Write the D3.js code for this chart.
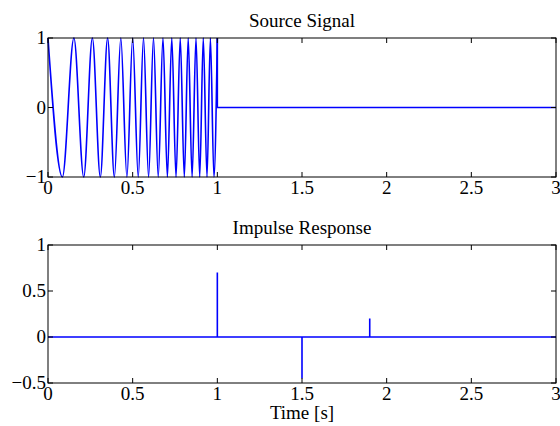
<!DOCTYPE html>
<html>
<head>
<meta charset="utf-8">
<script src="https://cdn.jsdelivr.net/npm/d3@7"></script>
<style>
  body { margin: 0; background: #fff; }
</style>
</head>
<body>
<svg id="chart" width="560" height="426"></svg>
<script>
// source signal: chirp extrema (seconds)
const chirpPeakTimes = [0, 0.153, 0.262, 0.352, 0.430, 0.5, 0.564, 0.623, 0.679, 0.731, 0.781, 0.828, 0.874, 0.917, 0.959, 1.0];
const chirpTroughTimes = [0.085, 0.211, 0.309, 0.392, 0.466, 0.533, 0.594, 0.651, 0.705, 0.756, 0.805, 0.851, 0.896, 0.939, 0.980];
const chirpPeak = 1;
const chirpTrough = -1;
const sourceTail = [{ x: 1, y: 1 }, { x: 1, y: 0 }, { x: 3, y: 0 }];

// impulse response taps
const impulseTimes = [1, 1.5, 1.9];
const impulseGains = [0.7, -0.45, 0.2];

const xTicks = [0, 0.5, 1, 1.5, 2, 2.5, 3];
const sourceYTicks = [-1, 0, 1];
const impulseYTicks = [-0.5, 0, 0.5, 1];

const svg = d3.select("#chart");
const left = 48, right = 556;
const tickLen = 5;
const fontSize = 19;
const serif = "'Liberation Serif', 'Times New Roman', Times, serif";
const blue = "#0000ff";

function drawAxes(g, x, y, xt, yt, title, top, bottom) {
    // box
    g.append("rect")
        .attr("x", left).attr("y", top)
        .attr("width", right - left).attr("height", bottom - top)
        .attr("fill", "none").attr("stroke", "#000").attr("stroke-width", 1);

    // inward ticks on all four sides
    xt.forEach(t => {
        const px = x(t);
        g.append("line").attr("x1", px).attr("x2", px).attr("y1", bottom).attr("y2", bottom - tickLen).attr("stroke", "#000");
        g.append("line").attr("x1", px).attr("x2", px).attr("y1", top).attr("y2", top + tickLen).attr("stroke", "#000");
        g.append("text")
            .attr("x", px).attr("y", bottom + 17)
            .attr("text-anchor", "middle")
            .attr("font-family", serif)
            .attr("font-size", fontSize)
            .text(d3.format("")(t));
    });
    yt.forEach(t => {
        const py = y(t);
        g.append("line").attr("x1", left).attr("x2", left + tickLen).attr("y1", py).attr("y2", py).attr("stroke", "#000");
        g.append("line").attr("x1", right).attr("x2", right - tickLen).attr("y1", py).attr("y2", py).attr("stroke", "#000");
        g.append("text")
            .attr("x", left - 2).attr("y", py + 6)
            .attr("text-anchor", "end")
            .attr("font-family", serif)
            .attr("font-size", fontSize)
            .text(t < 0 ? "\u2212" + Math.abs(t) : String(t));
    });

    g.append("text")
        .attr("x", (left + right) / 2).attr("y", top - 11)
        .attr("text-anchor", "middle")
        .attr("font-family", serif)
        .attr("font-size", fontSize)
        .text(title);
}

// ---- top: Source Signal
const top1 = 38, bot1 = 177;
const x1 = d3.scaleLinear().domain([0, 3]).range([left, right]);
const y1 = d3.scaleLinear().domain([-1, 1]).range([bot1, top1]);
const g1 = svg.append("g");

const chirp = chirpPeakTimes.map(t => ({ x: t, y: chirpPeak }))
    .concat(chirpTroughTimes.map(t => ({ x: t, y: chirpTrough })))
    .sort((a, b) => a.x - b.x);

const chirpLine = d3.line()
    .x(d => x1(d.x))
    .y(d => y1(d.y))
    .curve(d3.curveMonotoneX);

g1.append("path")
    .datum(chirp)
    .attr("fill", "none")
    .attr("stroke", blue)
    .attr("stroke-width", 1.6)
    .attr("d", chirpLine);

g1.append("path")
    .datum(sourceTail)
    .attr("fill", "none")
    .attr("stroke", blue)
    .attr("stroke-width", 1.6)
    .attr("d", d3.line().x(d => x1(d.x)).y(d => y1(d.y)));

drawAxes(g1, x1, y1, xTicks, sourceYTicks, "Source Signal", top1, bot1);

// ---- bottom: Impulse Response
const top2 = 245, bot2 = 383;
const x2 = d3.scaleLinear().domain([0, 3]).range([left, right]);
const y2 = d3.scaleLinear().domain([-0.5, 1]).range([bot2, top2]);
const g2 = svg.append("g");

const impulse = [{ x: 0, y: 0 }];
impulseTimes.forEach((t, i) => {
    impulse.push({ x: t, y: 0 }, { x: t, y: impulseGains[i] }, { x: t, y: 0 });
});
impulse.push({ x: 3, y: 0 });

g2.append("path")
    .datum(impulse)
    .attr("fill", "none")
    .attr("stroke", blue)
    .attr("stroke-width", 1.6)
    .attr("d", d3.line().x(d => x2(d.x)).y(d => y2(d.y)));

drawAxes(g2, x2, y2, xTicks, impulseYTicks, "Impulse Response", top2, bot2);

svg.append("text")
    .attr("x", (left + right) / 2).attr("y", 419)
    .attr("text-anchor", "middle")
    .attr("font-family", serif)
    .attr("font-size", fontSize)
    .text("Time [s]");
</script>
</body>
</html>
